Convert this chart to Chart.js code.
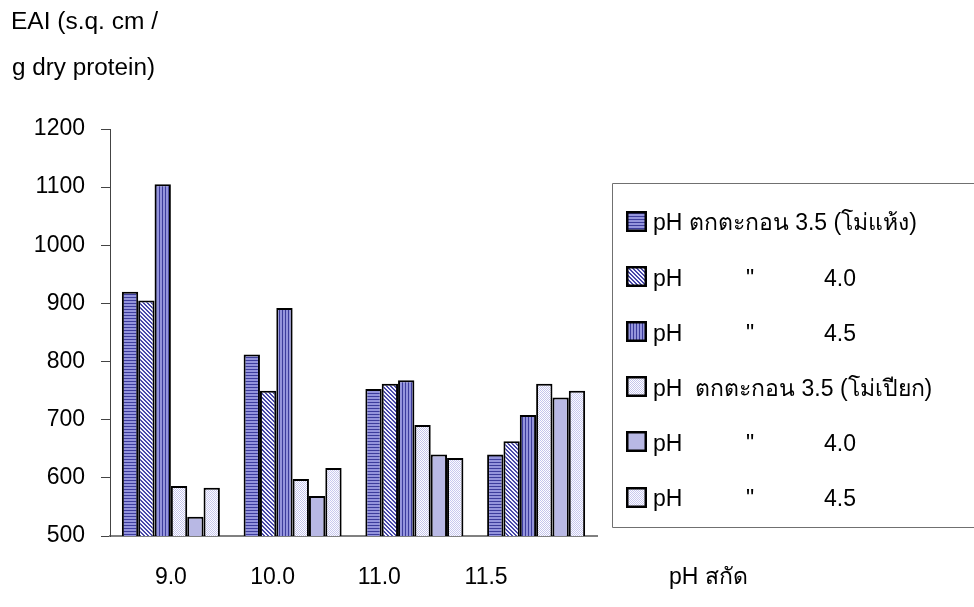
<!DOCTYPE html>
<html>
<head>
<meta charset="utf-8">
<script src="https://cdn.jsdelivr.net/npm/chart.js@4/dist/chart.umd.min.js"></script>
<style>
  html, body { margin: 0; padding: 0; background: #fff; }
  #wrap { width: 974px; height: 607px; }
</style>
</head>
<body>
<div id="wrap"><canvas id="c" width="974" height="607"></canvas></div>
<script>
// Extraction pH groups on the x axis
const categories = ['9.0', '10.0', '11.0', '11.5'];

// EAI values, dry-milled protein precipitated at pH 3.5 / 4.0 / 4.5
const dryPH35 = [920, 812, 753, 640];
const dryPH40 = [905, 750, 762, 663];
const dryPH45 = [1105, 892, 768, 708];

// EAI values, wet-milled protein precipitated at pH 3.5 / 4.0 / 4.5
const wetPH35 = [586, 598, 691, 762];
const wetPH40 = [533, 569, 640, 738];
const wetPH45 = [583, 617, 634, 750];

// y axis range and step
const yMin = 500;
const yMax = 1200;
const yStep = 100;

// legend text, one entry per series: [lead text, ditto mark, pH value]
const legendLabels = [
  ['pH ตกตะกอน 3.5 (โม่แห้ง)', '', ''],
  ['pH', '"', '4.0'],
  ['pH', '"', '4.5'],
  ['pH  ตกตะกอน 3.5 (โม่เปียก)', '', ''],
  ['pH', '"', '4.0'],
  ['pH', '"', '4.5']
];

const yTitleLines = ['EAI (s.q. cm /', 'g dry protein)'];
const xTitle = 'pH สกัด';

const FONT = '"Liberation Sans", Arial, "Noto Sans", "DejaVu Sans", sans-serif';
const FONT_SIZE = 23;

// small tiled fills for the bar textures
function makePattern(w, h, paint) {
  const c = document.createElement('canvas');
  c.width = w; c.height = h;
  const g = c.getContext('2d');
  paint(g);
  return g.createPattern(c, 'repeat');
}
const DARK = '#3c3c9c';
const MID = '#9494dc';

const hStripes = makePattern(1, 3, g => {
  g.fillStyle = MID; g.fillRect(0, 0, 1, 3);
  g.fillStyle = DARK; g.fillRect(0, 0, 1, 1);
});
const diagHatch = makePattern(4, 4, g => {
  g.fillStyle = '#f4f4ff'; g.fillRect(0, 0, 4, 4);
  g.fillStyle = '#4848a8';
  for (let i = 0; i < 4; i++) { g.fillRect(i, i, 1, 1); g.fillRect((i + 1) % 4, i, 1, 1); }
});
const vStripes = makePattern(3, 1, g => {
  g.fillStyle = MID; g.fillRect(0, 0, 3, 1);
  g.fillStyle = DARK; g.fillRect(0, 0, 1, 1);
});
const dotsA = makePattern(2, 2, g => {
  g.fillStyle = '#ffffff'; g.fillRect(0, 0, 2, 2);
  g.fillStyle = '#c4c4ec'; g.fillRect(0, 0, 1, 1); g.fillRect(1, 1, 1, 1);
});
const solidLav = '#b8b8e4';
const dotsB = makePattern(2, 2, g => {
  g.fillStyle = '#fbfbff'; g.fillRect(0, 0, 2, 2);
  g.fillStyle = '#c8c8ee'; g.fillRect(0, 0, 1, 1); g.fillRect(1, 1, 1, 1);
});

function ds(parts, data, fill) {
  return {
    label: parts.filter(Boolean).join(' '),
    data,
    backgroundColor: fill,
    borderColor: '#000000',
    borderWidth: 2,
    borderSkipped: false,
    categoryPercentage: 0.805,
    barPercentage: 1.0
  };
}

const datasets = [
  ds(legendLabels[0], dryPH35, hStripes),
  ds(legendLabels[1], dryPH40, diagHatch),
  ds(legendLabels[2], dryPH45, vStripes),
  ds(legendLabels[3], wetPH35, dotsA),
  ds(legendLabels[4], wetPH40, solidLav),
  ds(legendLabels[5], wetPH45, dotsB)
];

// draw Latin text, widened to a given width
function textAt(ctx, str, x, y, width) {
  if (!width) { ctx.fillText(str, x, y); return; }
  const w = ctx.measureText(str).width;
  ctx.save();
  ctx.translate(x, y);
  ctx.scale(width / w, 1);
  ctx.fillText(str, 0, 0);
  ctx.restore();
}

// titles, category labels and the boxed legend drawn on top of the chart
const decorations = {
  id: 'decorations',
  afterDraw(chart) {
    const ctx = chart.ctx;
    const area = chart.chartArea;
    const xs = chart.scales.x;
    ctx.save();
    ctx.fillStyle = '#000';
    ctx.font = FONT_SIZE + 'px ' + FONT;
    ctx.textBaseline = 'middle';

    // y axis title, two lines at the top left
    ctx.textAlign = 'left';
    textAt(ctx, yTitleLines[0], 11, 23, 147);
    textAt(ctx, yTitleLines[1], 12, 69, 143);

    // category labels sit a little left of their groups, stepping further left
    const labelY = area.bottom + 42;
    ctx.textAlign = 'center';
    categories.forEach((c, i) => {
      ctx.fillText(c, xs.getPixelForValue(i) - 15 * i - (i > 0 ? 5 : 0), labelY);
    });

    // x axis title, right of the last group
    ctx.textAlign = 'left';
    ctx.fillText(xTitle, area.right + 72, labelY);

    // legend frame
    const boxL = 612.5, boxT = 183.5, boxB = 527.5;
    ctx.strokeStyle = '#707070';
    ctx.lineWidth = 1;
    ctx.beginPath();
    ctx.moveTo(chart.width + 2, boxT);
    ctx.lineTo(boxL, boxT);
    ctx.lineTo(boxL, boxB);
    ctx.lineTo(chart.width + 2, boxB);
    ctx.stroke();

    // tab stops of the legend text
    const cols = [653, 746, 824];
    const rowTop = 224, rowGap = 55.2, sw = 21;
    chart.data.datasets.forEach((d, i) => {
      const cy = rowTop + i * rowGap;
      const sx = 626, sy = Math.round(cy - 3 - sw / 2);
      ctx.fillStyle = d.backgroundColor;
      ctx.fillRect(sx, sy, sw, sw);
      ctx.strokeStyle = '#000';
      ctx.lineWidth = 2.5;
      ctx.strokeRect(sx + 1.25, sy + 1.25, sw - 2.5, sw - 2.5);
      ctx.fillStyle = '#000';
      legendLabels[i].forEach((p, k) => { if (p) ctx.fillText(p, cols[k], cy); });
    });
    ctx.restore();
  }
};

new Chart(document.getElementById('c'), {
  type: 'bar',
  data: { labels: categories, datasets },
  options: {
    responsive: false,
    animation: false,
    layout: { padding: { top: 129, right: 377, left: 0, bottom: 0 } },
    plugins: { legend: { display: false }, tooltip: { enabled: false } },
    scales: {
      x: {
        grid: { display: false, drawTicks: false },
        border: { color: '#808080', width: 2 },
        ticks: { display: false },
        afterFit(s) { s.height = 71; }
      },
      y: {
        min: yMin, max: yMax,
        grid: { drawOnChartArea: false, drawTicks: true, tickLength: 9, color: '#444' },
        border: { color: '#444', width: 1 },
        ticks: {
          stepSize: yStep, color: '#000', padding: 16,
          font: { family: FONT, size: FONT_SIZE },
          callback: v => String(v)
        },
        afterFit(s) { s.width = 110; }
      }
    }
  },
  plugins: [decorations]
});
</script>
</body>
</html>
